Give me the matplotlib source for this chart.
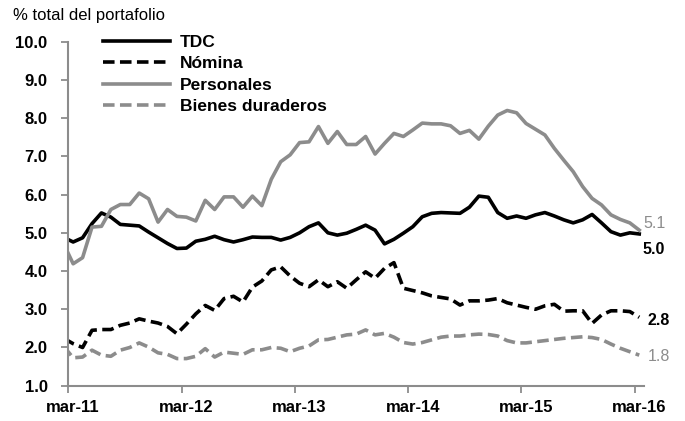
import matplotlib
matplotlib.use('Agg')
import matplotlib.pyplot as plt
import numpy as np

plt.rcParams['font.family'] = ['Liberation Sans', 'DejaVu Sans']

# monthly, feb-11 .. mar-16 (feb-11 falls just outside the axis)
months = np.arange(-1, 61)
tick_labels = ['mar-11', 'mar-12', 'mar-13', 'mar-14', 'mar-15', 'mar-16']

tdc = [4.88, 4.76, 4.87, 5.24, 5.52, 5.41, 5.22, 5.20, 5.18, 5.02, 4.87,
       4.72, 4.59, 4.60, 4.78, 4.83, 4.91, 4.82, 4.76, 4.82, 4.89, 4.88,
       4.88, 4.81, 4.88, 5.00, 5.16, 5.26, 5.00, 4.94, 4.99, 5.09, 5.20,
       5.07, 4.71, 4.83, 4.99, 5.16, 5.42, 5.51, 5.53, 5.52, 5.51, 5.67,
       5.96, 5.93, 5.53, 5.38, 5.44, 5.38, 5.47, 5.53, 5.44, 5.34, 5.26,
       5.34, 5.48, 5.26, 5.03, 4.94, 5.00, 4.97]
nomina = [2.24, 2.10, 2.00, 2.45, 2.47, 2.47, 2.58, 2.64, 2.75, 2.69, 2.64,
          2.55, 2.36, 2.61, 2.88, 3.10, 2.97, 3.28, 3.34, 3.19, 3.58, 3.74,
          4.03, 4.11, 3.87, 3.68, 3.59, 3.77, 3.59, 3.72, 3.55, 3.77, 3.98,
          3.81, 4.07, 4.22, 3.55, 3.49, 3.43, 3.35, 3.31, 3.27, 3.11, 3.22,
          3.22, 3.24, 3.28, 3.17, 3.11, 3.05, 3.00, 3.09, 3.13, 2.95, 2.96,
          2.96, 2.63, 2.85, 2.96, 2.96, 2.94, 2.79]
personales = [4.71, 4.19, 4.35, 5.15, 5.17, 5.61, 5.74, 5.74, 6.04, 5.89, 5.28,
              5.61, 5.43, 5.41, 5.31, 5.85, 5.61, 5.94, 5.94, 5.67, 5.96, 5.71,
              6.40, 6.86, 7.04, 7.36, 7.38, 7.78, 7.34, 7.65, 7.31, 7.31, 7.52,
              7.06, 7.34, 7.60, 7.52, 7.69, 7.87, 7.85, 7.85, 7.80, 7.60, 7.68,
              7.45, 7.79, 8.08, 8.20, 8.14, 7.86, 7.71, 7.56, 7.21, 6.90, 6.60,
              6.21, 5.90, 5.73, 5.47, 5.35, 5.26, 5.07]
bienes = [2.03, 1.73, 1.75, 1.93, 1.80, 1.77, 1.93, 2.00, 2.12, 2.01, 1.86,
          1.82, 1.71, 1.71, 1.77, 1.97, 1.75, 1.88, 1.85, 1.82, 1.94, 1.94,
          2.00, 1.98, 1.89, 1.98, 2.04, 2.20, 2.21, 2.27, 2.33, 2.35, 2.46,
          2.33, 2.37, 2.27, 2.13, 2.09, 2.13, 2.20, 2.27, 2.30, 2.30, 2.33,
          2.35, 2.34, 2.30, 2.18, 2.12, 2.12, 2.15, 2.18, 2.21, 2.24, 2.26,
          2.28, 2.26, 2.21, 2.09, 1.98, 1.89, 1.80]

gray = '#8c8c8c'
lw = 2.6

fig = plt.figure(figsize=(6.85, 4.21), dpi=100)
ax = fig.add_axes([0.0999, 0.0838, 0.8402, 0.8172])

l1, = ax.plot(months, tdc, color='black', lw=lw, solid_joinstyle='round', label='TDC')
l2, = ax.plot(months, nomina, color='black', lw=lw, dashes=(3.2, 1.5), label='Nómina')
l3, = ax.plot(months, personales, color=gray, lw=lw, solid_joinstyle='round', label='Personales')
l4, = ax.plot(months, bienes, color=gray, lw=lw, dashes=(3.2, 1.5), label='Bienes duraderos')

ax.set_xlim(-0.5, 60.5)
ax.set_ylim(1, 10)
ax.set_yticks(np.arange(1, 11))
ax.set_yticklabels(['%.1f' % v for v in np.arange(1, 11)])

ax.set_xticks(np.arange(0, 61, 12) - 0.5)
ax.set_xticklabels([])
ax.set_xticks(np.arange(0, 61, 12), minor=True)
ax.set_xticklabels(tick_labels, minor=True)
ax.tick_params(axis='x', which='minor', length=0, pad=10)
ax.tick_params(axis='x', which='major', length=5, width=1.3, color=gray, direction='out')
ax.tick_params(axis='y', length=5, width=1.3, color=gray, direction='out', pad=10)
for lab in ax.get_xticklabels(minor=True) + ax.get_yticklabels():
    lab.set_fontweight('bold')
    lab.set_fontsize(12)

for s in ['top', 'right']:
    ax.spines[s].set_visible(False)
for s in ['left', 'bottom']:
    ax.spines[s].set_color(gray)
    ax.spines[s].set_linewidth(1.5)

# end-of-series labels
ends = [(personales, '5.1', gray, 'normal', (3, 5)),
        (tdc, '5.0', 'black', 'bold', (2, -11)),
        (nomina, '2.8', 'black', 'bold', (6, -2)),
        (bienes, '1.8', gray, 'normal', (6, -1))]
for series, txt, col, wt, off in ends:
    ax.annotate(txt, xy=(months[-1], series[-1]), xytext=off, textcoords='offset points',
                color=col, fontsize=11.5, fontweight=wt, va='center', ha='left',
                annotation_clip=False)

leg = fig.legend(handles=[l1, l2, l3, l4], loc='upper left', bbox_to_anchor=(0.150, 0.918),
                 frameon=False, borderpad=0, borderaxespad=0, handlelength=3.9,
                 handletextpad=0.55, labelspacing=0.37, prop={'weight': 'bold', 'size': 12.5})

fig.text(0.019, 0.962, '% total del portafolio', fontsize=12, va='center', ha='left')

fig.savefig('out.png', dpi=100)
